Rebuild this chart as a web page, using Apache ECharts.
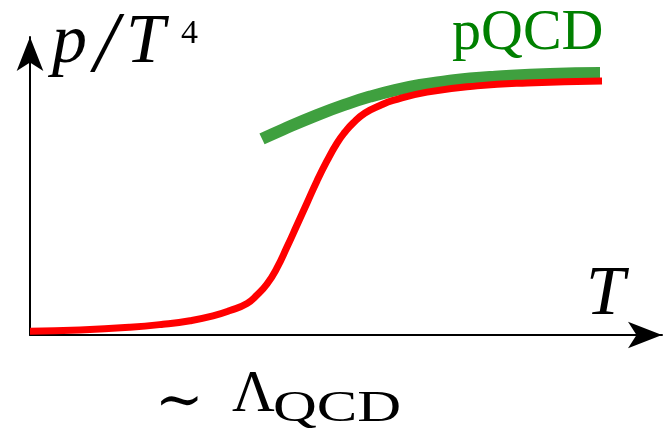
<!DOCTYPE html>
<html>
<head>
    <meta charset="utf-8">
    <title>p/T^4</title>
    <script src="https://cdn.jsdelivr.net/npm/echarts@6/dist/echarts.min.js"></script>
    <style>
        html, body { margin: 0; padding: 0; background: #fff; }
        #main { width: 663px; height: 432px; }
    </style>
</head>
<body>
<div id="main"></div>
<script type="text/javascript">

    // T (arbitrary units) and p/T^4
    var latticeT = [0, 0.791, 1.582, 2.104, 2.532, 2.896, 3.165, 3.434, 3.592, 3.750, 3.908, 4.066, 4.225,
                    4.383, 4.541, 4.699, 4.858, 4.984, 5.111, 5.301, 5.538, 5.744, 6.282, 7.073, 7.864, 9.051];
    var latticeP = [0.013, 0.017, 0.026, 0.036, 0.048, 0.064, 0.082, 0.106, 0.134, 0.171, 0.225, 0.295, 0.369,
                    0.443, 0.517, 0.584, 0.644, 0.681, 0.711, 0.745, 0.770, 0.787, 0.815, 0.836, 0.846, 0.852];

    var pqcdT = [3.671, 4.003, 4.541, 4.984, 5.380, 5.775, 6.171, 6.566, 6.962, 7.358, 8.228, 9.019];
    var pqcdP = [0.658, 0.690, 0.738, 0.773, 0.800, 0.822, 0.839, 0.851, 0.861, 0.867, 0.876, 0.879];

    function pairs(xs, ys) {
        var out = [];
        for (var i = 0; i < xs.length; i++) {
            out.push([xs[i], ys[i]]);
        }
        return out;
    }

    var serif = '"Liberation Serif", "DejaVu Serif", serif';

    var myChart = echarts.init(document.getElementById('main'));

    var axisLine = {
        show: true,
        symbol: ['none', 'arrow'],
        symbolSize: [20, 34],
        lineStyle: { color: '#000', width: 2 }
    };

    function label(text, left, top, font, extra) {
        var el = { type: 'text', left: left, top: top, style: { text: text, font: font, fill: '#000' } };
        for (var k in extra) el[k] = extra[k];
        return el;
    }

    var option = {
        animation: false,
        grid: { left: 30, right: 1, top: 37, bottom: 97 },
        xAxis: {
            type: 'value',
            min: 0,
            max: 10,
            axisLine: axisLine,
            axisTick: { show: false },
            axisLabel: { show: false },
            splitLine: { show: false }
        },
        yAxis: {
            type: 'value',
            min: 0,
            max: 1,
            axisLine: axisLine,
            axisTick: { show: false },
            axisLabel: { show: false },
            splitLine: { show: false }
        },
        series: [
            {
                name: 'pQCD',
                type: 'line',
                data: pairs(pqcdT, pqcdP),
                smooth: 0.5,
                symbol: 'none',
                z: 2,
                lineStyle: { color: '#3fa03f', width: 12, cap: 'butt' }
            },
            {
                name: 'lattice',
                type: 'line',
                data: pairs(latticeT, latticeP),
                smooth: 0.5,
                symbol: 'none',
                z: 3,
                lineStyle: { color: '#ff0000', width: 7, cap: 'butt', join: 'round' }
            }
        ],
        // labels; p / T placed one by one, the original math font is wider
        graphic: [
            label('p', 52, 9, 'italic 70px ' + serif),
            label('/', 94, 5, 'italic 86px ' + serif),
            label('T', 126, 9, 'italic 70px ' + serif),
            label('4', 181, 17, '34px ' + serif),
            { type: 'text', left: 452, top: 5, style: { text: 'pQCD', font: '58px ' + serif, fill: '#008000' } },
            label('T', 586, 261, 'italic 70px ' + serif),
            label('\u223C', 155, 375, '58px "DejaVu Serif", serif'),
            label('\u039B', 232, 366, '59px ' + serif),
            label('QCD', 273, 387, '44px ' + serif, { scaleX: 1.38 })
        ]
    };

    myChart.setOption(option);

</script>
</body>
</html>
